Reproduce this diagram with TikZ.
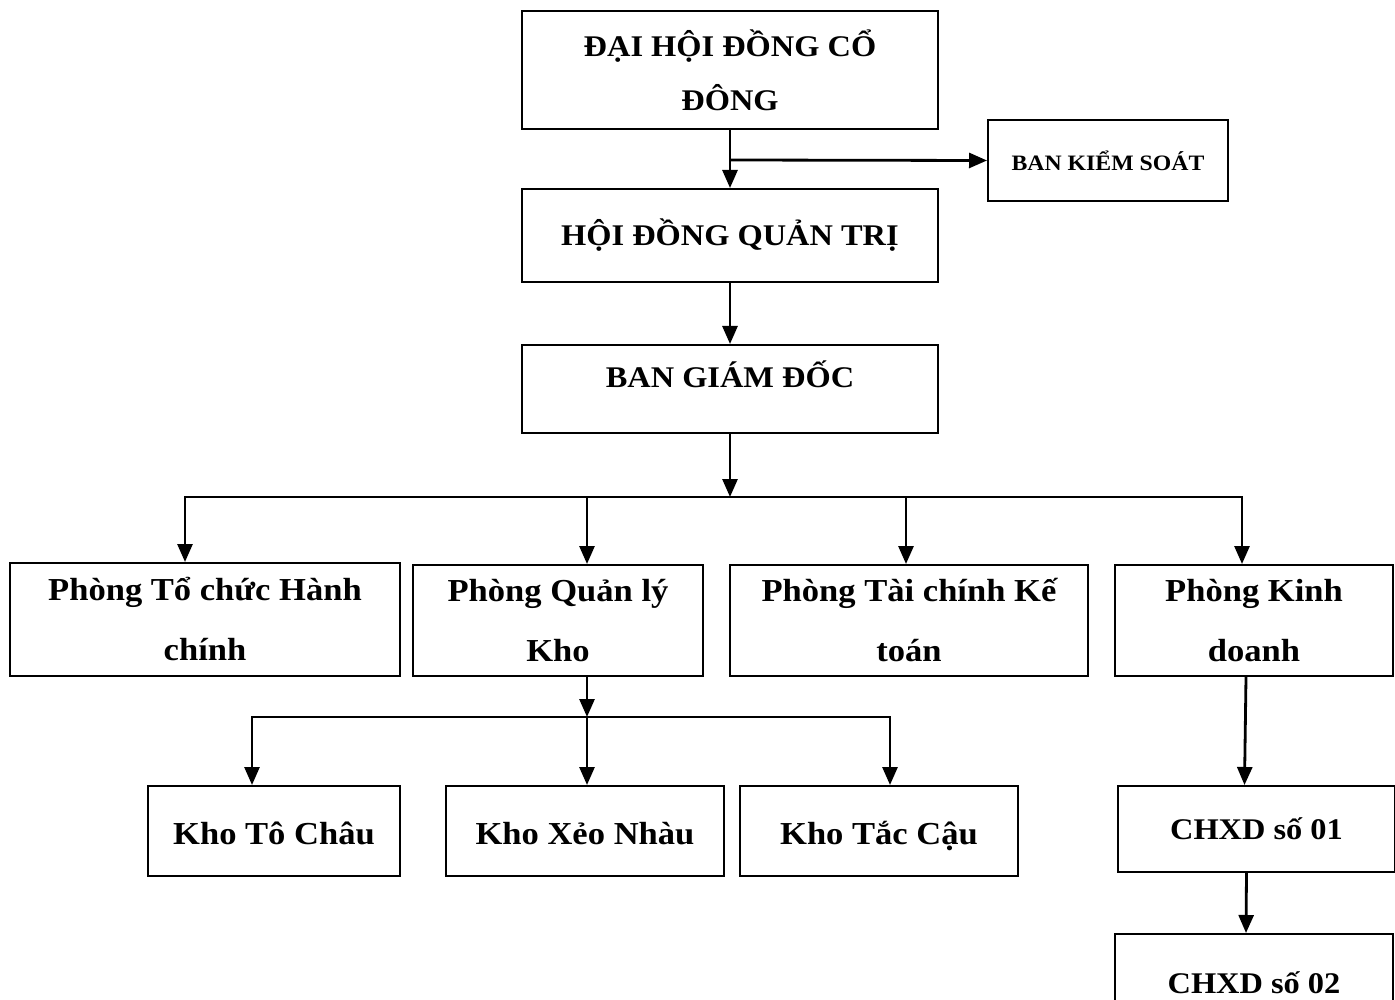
\documentclass[tikz,border=0pt]{standalone}
\usepackage{fontspec}
\setmainfont{Liberation Serif}[FakeStretch=1.08]
\usetikzlibrary{arrows.meta}

\begin{document}
\begin{tikzpicture}[x=1pt, y=-1pt,
    khung/.style={draw, line width=2pt, inner sep=0pt, align=center},
    muiten/.style={line width=2.8pt, -{Triangle[length=18pt, width=15pt]}},
    noi/.style={line width=2.6pt, line cap=rect},
    capcao/.style={font=\fontsize{30}{54}\selectfont\bfseries},
    phong/.style={font=\fontsize{32}{60}\selectfont\bfseries},
    kho/.style={font=\fontsize{32}{36}\selectfont\bfseries, minimum width=278pt, minimum height=90pt,
        text height=30pt, text depth=4pt}]
    \useasboundingbox (0,0) rectangle (1395,1000);

    % cap lanh dao
    \node[khung, capcao, minimum width=416pt, minimum height=118pt] (dhdcd) at (730,70)
        {ĐẠI HỘI ĐỒNG CỔ\\ĐÔNG};
    \node[khung, font=\fontsize{22}{26}\selectfont\bfseries, minimum width=240pt, minimum height=81pt] (bks) at (1108,160.5)
        {BAN KIỂM SOÁT};
    \node[khung, capcao, minimum width=416pt, minimum height=93pt] (hdqt) at (730,235.5)
        {HỘI ĐỒNG QUẢN TRỊ};
    \node[khung, capcao, minimum width=416pt, minimum height=88pt, text height=20pt, text depth=24pt] (bgd) at (730,389)
        {BAN GIÁM ĐỐC};

    % cac phong
    \node[khung, phong, minimum width=390pt, minimum height=113pt] (tchc) at (205,619.5)
        {Phòng Tổ chức Hành\\chính};
    \node[khung, phong, minimum width=290pt, minimum height=111pt] (qlk) at (558,620.5)
        {Phòng Quản lý\\Kho};
    \node[khung, phong, minimum width=358pt, minimum height=111pt] (tckt) at (909,620.5)
        {Phòng Tài chính Kế\\toán};
    \node[khung, phong, minimum width=278pt, minimum height=111pt] (kd) at (1254,620.5)
        {Phòng Kinh\\doanh};

    % cac kho
    \node[khung, kho, minimum width=252pt] (ktchau) at (274,831) {Kho Tô Châu};
    \node[khung, kho] (kxnhau) at (585,831) {Kho Xẻo Nhàu};
    \node[khung, kho] (ktcau) at (879,831) {Kho Tắc Cậu};

    % cua hang xang dau
    \node[khung, font=\fontsize{30}{36}\selectfont\bfseries, minimum width=277pt, minimum height=86pt] (ch1) at (1256.5,829)
        {CHXD số 01};
    \node[khung, font=\fontsize{30}{36}\selectfont\bfseries, minimum width=278pt, minimum height=78pt, text height=50pt, text depth=10pt] (ch2) at (1254,973)
        {CHXD số 02};

    % mui ten
    \coordinate (rebks) at (730,160);
    \coordinate (truc1) at (730,497);
    \coordinate (t1a) at (185,497);
    \coordinate (t1b) at (587,497);
    \coordinate (t1c) at (906,497);
    \coordinate (t1d) at (1242,497);
    \coordinate (truc2) at (587,717);
    \coordinate (t2a) at (252,717);
    \coordinate (t2c) at (890,717);

    \draw[muiten] (dhdcd.south) -- (hdqt.north);
    \draw[muiten] (rebks) -- (bks.west);
    \draw[muiten] (hdqt.south) -- (bgd.north);
    \draw[muiten] (bgd.south) -- (truc1);
    \draw[noi] (t1a) -- (t1d);
    \foreach \c/\n in {t1a/tchc, t1b/qlk, t1c/tckt, t1d/kd}
        \draw[muiten] (\c) -- (\c |- \n.north);

    \draw[muiten] (qlk.south -| truc2) -- (truc2);
    \draw[noi] (t2a) -- (t2c);
    \foreach \c/\n in {t2a/ktchau, truc2/kxnhau, t2c/ktcau}
        \draw[muiten] (\c) -- (\c |- \n.north);

    \draw[muiten] ([xshift=-8pt]kd.south) -- ([xshift=-12pt]ch1.north);
    \draw[muiten] ([xshift=-10pt]ch1.south) -- ([xshift=-8pt]ch2.north);
\end{tikzpicture}
\end{document}
